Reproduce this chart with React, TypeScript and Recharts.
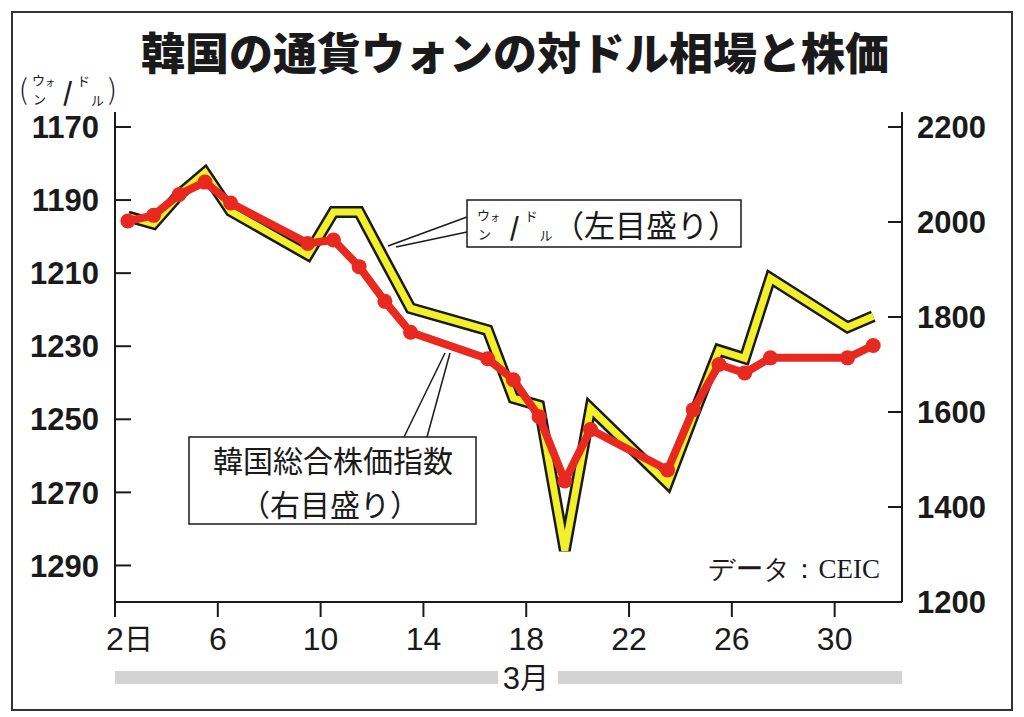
import React from 'react';
import { LineChart, Line, XAxis, YAxis } from 'recharts';

// ── data (March 2020, trading days) ──
const days = [2, 3, 4, 5, 6, 9, 10, 11, 12, 13, 16, 17, 18, 19, 20, 23, 24, 25, 26, 27, 30, 31];
const wonPerDollar = [
  1194.5, 1196.5, 1188.5, 1182.5, 1193, 1205, 1193.3, 1193.3, 1206.5, 1219.6, 1225.6,
  1244.2, 1246.2, 1285.9, 1247, 1267.5, 1249, 1231.1, 1233.3, 1211.4, 1224.8, 1221.8,
];
const kospi = [
  2002, 2014, 2058, 2084, 2040, 1955, 1962, 1906, 1833, 1768, 1712,
  1668, 1590, 1455, 1563, 1478, 1605, 1700, 1682, 1714, 1714, 1740,
];
const leftTicks = [1170, 1190, 1210, 1230, 1250, 1270, 1290];
const rightTicks = [1200, 1400, 1600, 1800, 2000, 2200];
const xTickDays = [2, 6, 10, 14, 18, 22, 26, 30];

const data = days.map((d, i) => ({ day: d, won: wonPerDollar[i], kospi: kospi[i] }));

const NUM_FONT = "'Liberation Sans', Arial, sans-serif";
const JP_FONT = "'Noto Sans CJK JP', sans-serif";
const RED = '#e8291f';
const YELLOW = '#f2f02a';
const INK = '#1a1a1a';

// ticks sit on day boundaries, points in the middle of each day
const xTicks = xTickDays.map((d) => d - 0.5);

function LeftTick({ x, y, payload }: any) {
  return (
    <g>
      <line x1={x} x2={x + 16} y1={y} y2={y} stroke={INK} strokeWidth={2} />
      <text x={x - 16} y={y} dy="0.36em" textAnchor="end" fontFamily={NUM_FONT}
        fontWeight="bold" fontSize={31} fill={INK}>
        {payload.value}
      </text>
    </g>
  );
}

function RightTick({ x, y, payload }: any) {
  return (
    <g>
      <line x1={x - 14} x2={x} y1={y} y2={y} stroke={INK} strokeWidth={2} />
      <text x={x + 15} y={y} dy="0.36em" textAnchor="start" fontFamily={NUM_FONT}
        fontWeight="bold" fontSize={31} fill={INK}>
        {payload.value}
      </text>
    </g>
  );
}

function BottomTick({ x, y, payload }: any) {
  const d = Math.round(payload.value + 0.5);
  return (
    <g>
      <text x={x} y={y} dy="0.71em" textAnchor="middle" fontFamily={NUM_FONT}
        fontSize={32} fill={INK}>
        {d}
      </text>
      {d === 2 && (
        <text x={x + 9} y={y} dy="0.78em" textAnchor="start" fontFamily={JP_FONT}
          fontSize={29} fill={INK}>
          日
        </text>
      )}
    </g>
  );
}

// stacked kana "ウォ/ン / ド/ル", drawn as one text run (tspans)
function wonDollarSpans(x: number, y: number, k = 1) {
  return [
    <tspan key="u" x={x} y={y} fontSize={13}>ウ</tspan>,
    <tspan key="o" x={x + 13} y={y + 1} fontSize={10}>ォ</tspan>,
    <tspan key="n" x={x + 1} y={y + 19} fontSize={13}>ン</tspan>,
    <tspan key="s" x={x + 31 * k} y={y + 16} fontSize={25} fontWeight="bold">/</tspan>,
    <tspan key="d" x={x + 45 * k} y={y + 1} fontSize={13}>ド</tspan>,
    <tspan key="r" x={x + 59 * k} y={y + 20} fontSize={13}>ル</tspan>,
  ];
}

function Overlay() {
  return (
    <svg width={1024} height={717} style={{ position: 'absolute', left: 0, top: 0, pointerEvents: 'none' }}>
      <rect x={12} y={12} width={1000} height={698} fill="none" stroke="#333" strokeWidth={2} />

      <text x={515} y={70} textAnchor="middle" fontFamily={JP_FONT} fontWeight={900}
        fontSize={44} fill={INK}>
        韓国の通貨ウォンの対ドル相場と株価
      </text>

      {/* unit (ウォン/ドル) */}
      <text fontFamily={JP_FONT} fill={INK}>
        <tspan x={19} y={100} fontSize={28} fontWeight={300}>(</tspan>
        {wonDollarSpans(32, 85)}
        <tspan x={108} y={100} fontSize={28} fontWeight={300}>)</tspan>
      </text>

      {/* callout: won/dollar */}
      <line x1={467} y1={217} x2={388} y2={246} stroke={INK} strokeWidth={1.5} />
      <line x1={467} y1={232} x2={396} y2={247} stroke={INK} strokeWidth={1.5} />
      <rect x={467} y={200} width={274} height={47} fill="#fff" stroke={INK} strokeWidth={1.5} />
      <text fontFamily={JP_FONT} fill={INK}>
        {wonDollarSpans(477, 220, 1.06)}
        <tspan x={553} y={237} fontSize={31}>（左目盛り）</tspan>
      </text>

      {/* callout: KOSPI */}
      <line x1={404} y1={437} x2={445} y2={353} stroke={INK} strokeWidth={1.5} />
      <line x1={427} y1={437} x2={450} y2={353} stroke={INK} strokeWidth={1.5} />
      <rect x={189} y={437} width={287} height={87} fill="#fff" stroke={INK} strokeWidth={1.5} />
      <text fontFamily={JP_FONT} fill={INK} textAnchor="middle" fontSize={30}>
        <tspan x={333} y={472}>韓国総合株価指数</tspan>
        <tspan x={330} y={516}>（右目盛り）</tspan>
      </text>

      <text x={880} y={578} textAnchor="end" fontFamily="'Liberation Serif', serif" fontSize={27} fill={INK}>
        データ：CEIC
      </text>

      {/* month band */}
      <rect x={115} y={671} width={787} height={13} fill="#d3d3d3" />
      <rect x={498} y={660} width={60} height={36} fill="#fff" />
      <text x={526} y={689} textAnchor="middle" fontFamily={NUM_FONT} fontSize={31} fill={INK}>
        3<tspan fontFamily={JP_FONT} fontSize={29}>月</tspan>
      </text>
    </svg>
  );
}

export default function App() {
  return (
    <div style={{ position: 'absolute', left: 0, top: 0, width: 1024, height: 717, background: '#fff' }}>
      <LineChart width={1024} height={717} data={data}
        margin={{ top: 112, right: 0, bottom: 0, left: 0 }}>
        <XAxis dataKey="day" type="number" domain={[1.5, 32.12]} ticks={xTicks}
          allowDataOverflow interval={0} height={115} tickSize={15} tickMargin={10}
          axisLine={{ stroke: INK, strokeWidth: 2 }} tickLine={{ stroke: INK, strokeWidth: 2 }}
          tick={<BottomTick />} />
        <YAxis yAxisId="left" orientation="left" width={115} reversed
          domain={[1165.9, 1300]} ticks={leftTicks} allowDataOverflow interval={0}
          tickSize={0} tickMargin={0} tickLine={false}
          axisLine={{ stroke: INK, strokeWidth: 2 }} tick={<LeftTick />} />
        <YAxis yAxisId="right" orientation="right" width={122}
          domain={[1200, 2231.6]} ticks={rightTicks} allowDataOverflow interval={0}
          tickSize={0} tickMargin={0} tickLine={false}
          axisLine={{ stroke: INK, strokeWidth: 2 }} tick={<RightTick />} />
        <Line yAxisId="left" dataKey="won" type="linear" stroke={INK} strokeWidth={12}
          strokeLinejoin="miter" dot={false} isAnimationActive={false} />
        <Line yAxisId="left" dataKey="won" type="linear" stroke={YELLOW} strokeWidth={7}
          strokeLinejoin="miter" dot={false} isAnimationActive={false} />
        <Line yAxisId="right" dataKey="kospi" type="linear" stroke={RED} strokeWidth={8}
          strokeLinejoin="round" dot={{ r: 7.5, fill: RED, stroke: RED, strokeWidth: 0 }}
          isAnimationActive={false} />
      </LineChart>
      <Overlay />
    </div>
  );
}
